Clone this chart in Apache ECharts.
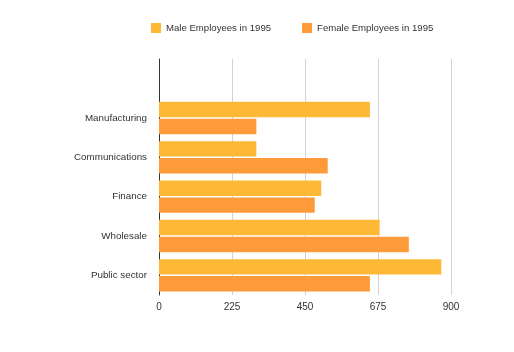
<!DOCTYPE html>
<html><head><meta charset="utf-8">
<script src="https://cdn.jsdelivr.net/npm/echarts@6/dist/echarts.min.js"></script>
<style>html,body{margin:0;padding:0;background:#fff}#c{width:514px;height:352px}</style>
</head><body><div id="c"></div>
<script>
var categories = ['Manufacturing', 'Communications', 'Finance', 'Wholesale', 'Public sector'];
var maleValues = [650, 300, 500, 680, 870];
var femaleValues = [300, 520, 480, 770, 650];
var seriesNames = ['Male Employees in 1995', 'Female Employees in 1995'];
var xTicks = [0, 225, 450, 675, 900];

var chart = echarts.init(document.getElementById('c'), null, {renderer: 'canvas'});
var font = 'Liberation Sans, Arial, Helvetica, sans-serif';
chart.setOption({
  animation: false,
  textStyle: {fontFamily: font},
  legend: {
    left: 146, top: 18, itemWidth: 10, itemHeight: 10, itemGap: 31,
    icon: 'rect',
    textStyle: {fontSize: 9.6, color: '#333', fontFamily: font},
    data: seriesNames
  },
  grid: {left: 159, right: 63, top: 59, bottom: 57, containLabel: false},
  xAxis: {
    type: 'value', min: xTicks[0], max: xTicks[xTicks.length - 1], interval: 225,
    axisLine: {show: false}, axisTick: {show: false},
    axisLabel: {fontSize: 10, color: '#333', margin: 7, fontFamily: font},
    splitLine: {show: true, lineStyle: {color: '#d4d0d8', width: 1}}
  },
  yAxis: {
    type: 'category', inverse: true,
    data: [''].concat(categories),
    axisLine: {show: true, onZero: false, lineStyle: {color: '#333', width: 1}},
    axisTick: {show: false},
    axisLabel: {fontSize: 9.8, color: '#333', margin: 12, fontFamily: font}
  },
  series: [
    {name: seriesNames[0], type: 'bar', data: [null].concat(maleValues),
     itemStyle: {color: '#fdb935'}, barGap: '10%', barCategoryGap: '18%'},
    {name: seriesNames[1], type: 'bar', data: [null].concat(femaleValues),
     itemStyle: {color: '#fd9a39'}, barGap: '10%', barCategoryGap: '18%'}
  ]
});
</script></body></html>
